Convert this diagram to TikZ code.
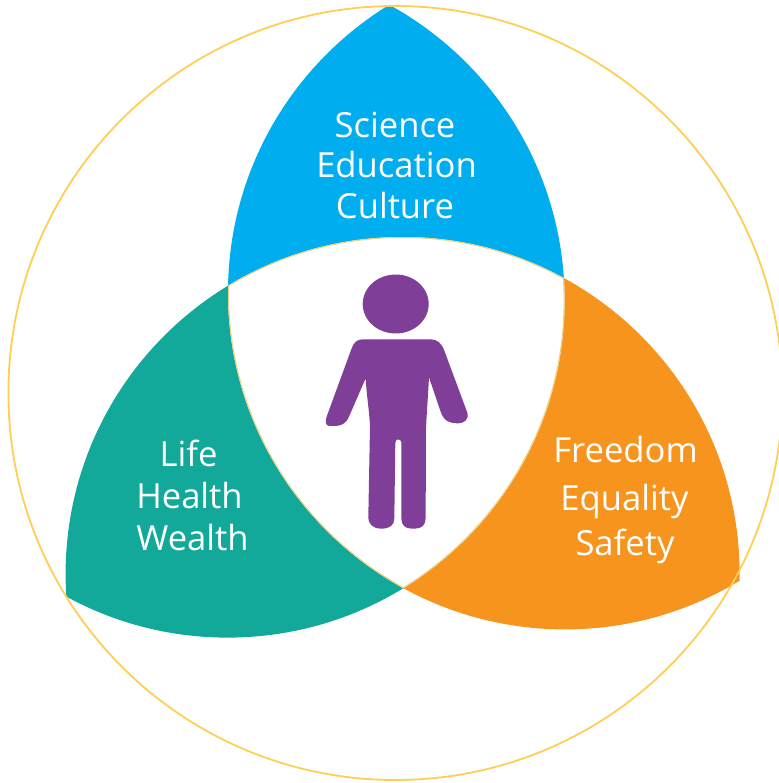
\documentclass[tikz,border=0pt]{standalone}
\usepackage{fontspec}
\setmainfont{Open Sans}
\definecolor{cblue}{HTML}{00ADEF}
\definecolor{cteal}{HTML}{12A89A}
\definecolor{corange}{HTML}{F7941E}
\definecolor{cpurple}{HTML}{7F3F98}
\definecolor{cring}{HTML}{FFCF55}
\definecolor{cedge}{HTML}{E8D48A}
\tikzset{
  petaltext/.style={text=white,font=\fontsize{34.6}{34.6}\selectfont,inner sep=0pt,anchor=base},
  ring/.style={draw=cring,line width=1.8pt},
}
\def\rad{337pt}
\begin{document}
\begin{tikzpicture}[x=1pt,y=-1pt]
\useasboundingbox (0,0) rectangle (778,783);
\fill[white] (0,0) rectangle (778,783);
\coordinate (T) at (402.6,574);
\coordinate (L) at (227.6,300.6);
\coordinate (R) at (565,292.4);
% petals
\begin{scope}\clip (L) circle (\rad);\clip (R) circle (\rad);\fill[cblue] (0,0) rectangle (778,783);\end{scope}
\begin{scope}\clip (T) circle (\rad);\clip (L) circle (\rad);\fill[cteal] (0,0) rectangle (778,783);\end{scope}
\begin{scope}\clip (T) circle (\rad);\clip (R) circle (\rad);\fill[corange] (0,0) rectangle (778,783);\end{scope}
% centre
\begin{scope}
\clip (T) circle (\rad);\clip (L) circle (\rad);\clip (R) circle (\rad);
\fill[white] (0,0) rectangle (778,783);
\draw[cedge,line width=2pt] (T) circle (\rad);
\draw[cedge,line width=2pt] (L) circle (\rad);
\draw[cedge,line width=2pt] (R) circle (\rad);
\end{scope}
% ring
\draw[ring] (395.4,393) circle (387pt);
% person
\fill[cpurple] (395.7,304) ellipse (33pt and 29.5pt);
\begin{scope}[shift={(200,220)},x=0.3333pt,y=-0.3333pt]
\fill[cpurple] (490,358) -- (692,358) .. controls (712,358) and (725,370) .. (733,392)
 -- (802,578) .. controls (808,598) and (792,610) .. (775,610)
 .. controls (750,610) and (732,605) .. (722,575)
 -- (687,472) .. controls (684,530) and (680,580) .. (678,630)
 -- (677,895) .. controls (677,915) and (665,926) .. (645,926)
 -- (635,926) .. controls (615,926) and (604,915) .. (604,895)
 -- (604,668) .. controls (604,655) and (586,655) .. (586,668)
 -- (583,895) .. controls (583,915) and (570,926) .. (545,926)
 .. controls (520,926) and (505,915) .. (505,890)
 -- (510,620) .. controls (508,570) and (500,530) .. (497,475)
 -- (447,590) .. controls (438,610) and (425,618) .. (405,618)
 -- (388,618) .. controls (378,618) and (374,605) .. (380,590)
 -- (455,385) .. controls (462,366) and (472,358) .. (490,358) -- cycle;
\end{scope}
% text
\node[petaltext] (a1) at (395,137.5) {Science};
\node[petaltext] (a2) at (396.5,178) {Education};
\node[petaltext] (a3) at (395,218.5) {Culture};
\node[petaltext] (b1) at (188.5,466) {Life};
\node[petaltext] (b2) at (189.5,508) {Health};
\node[petaltext] (b3) at (192.5,550) {Wealth};
\node[petaltext] (c1) at (625.5,462) {Freedom};
\node[petaltext] (c2) at (624.5,510) {Equality};
\node[petaltext] (c3) at (625,555) {Safety};
\end{tikzpicture}
\end{document}
